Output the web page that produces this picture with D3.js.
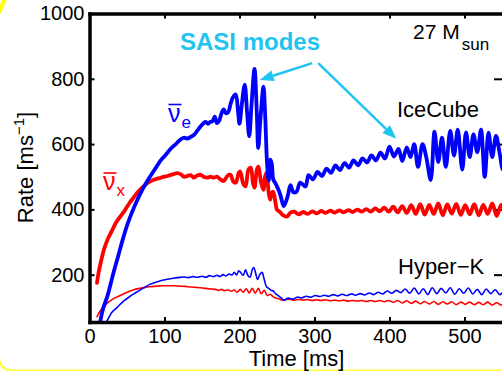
<!DOCTYPE html>
<html><head><meta charset="utf-8">
<script src="https://cdn.jsdelivr.net/npm/d3@7"></script>
<style>html,body{margin:0;padding:0;background:#fff;} svg{display:block;}</style>
</head><body>
<svg id="c" width="502" height="371"></svg>
<script>
// ---- data (time in ms, rate in ms^-1) ----
const iceNuE = [[14,52],[18,95],[24,135],[28,170],[32,206],[38,255],[44,305],[50,350],[57,393],[63,425],[70,458],[77,487],[85,515],[95,550],[102,568],[108,585],[115,600],[121,613],[126,620],[130,617],[135,622],[140,630],[144,642],[148,654],[152,664],[155,668],[158,662],[161,668],[164,670],[167,684],[170,664],[173,672],[176,694],[179,706],[182,694],[185,698],[188,722],[191,742],[195,752],[198,700],[200,662],[203,720],[207,782],[210,700],[213,624],[216,720],[220,830],[223,700],[225,588],[228,680],[232,776],[234,700],[237,531],[239,488],[241,552],[243,540],[245,492],[248,480],[252,460],[255,440],[259,410],[264,438],[268,474],[272,452],[276,454],[281,482],[288,470],[292,505],[298,492],[304,515],[310,502],[316,525],[322,512],[328,535],[334,520],[340,542],[346,528],[352,550],[358,535],[364,556],[370,544],[376,565],[382,550],[388,574],[394,556],[400,592],[406,562],[412,585],[417,548],[423,590],[428,560],[433,600],[438,530],[444,600],[449,560],[455,490],[460,638],[465,545],[470,620],[475,530],[481,640],[486,565],[491,644],[497,522],[502,636],[507,560],[512,630],[517,575],[522,644],[527,500],[532,635],[537,560],[542,625],[547,570],[551,522],[555,600]];
const iceNuX = [[10,175],[12,205],[15,237],[19,275],[24,307],[30,335],[35,358],[41,378],[46,393],[52,415],[59,437],[65,455],[72,470],[78,482],[85,490],[95,497],[105,503],[112,508],[117,511],[122,507],[126,500],[130,502],[135,505],[139,497],[143,503],[148,506],[152,500],[157,497],[161,500],[166,497],[170,500],[175,491],[179,487],[184,503],[188,506],[192,484],[195,482],[199,512],[201,516],[205,478],[208,470],[212,522],[215,528],[218,480],[220,467],[223,520],[225,531],[229,480],[232,460],[234,500],[236,512],[239,450],[241,430],[243,450],[245,454],[248,420],[250,399],[254,392],[258,382],[263,378],[268,390],[273,393],[279,385],[285,392],[291,386],[297,394],[303,388],[309,395],[315,389],[321,396],[327,390],[333,397],[339,391],[345,398],[351,392],[357,399],[363,393],[369,401],[375,393],[381,403],[387,394],[393,405],[399,393],[405,408],[411,391],[417,410],[423,389],[429,413],[435,386],[441,416],[447,384],[453,414],[459,386],[465,418],[471,382],[477,415],[483,387],[489,417],[495,383],[501,413],[507,385],[513,416],[519,382],[525,414],[531,386],[537,418],[543,380],[549,414],[555,385]];
const hkNuE = [[22,52],[26,70],[30,85],[37,100],[45,118],[52,130],[59,141],[67,152],[74,162],[81,171],[90,178],[97,183],[104,186],[112,189],[118,191],[125,193],[132,191],[138,194],[144,192],[150,195],[155,192],[160,197],[165,194],[170,198],[174,194],[178,200],[182,196],[186,202],[190,199],[193,207],[196,199],[199,212],[202,205],[205,198],[208,215],[211,198],[214,192],[217,215],[219,222],[222,200],[224,185],[227,200],[230,207],[233,185],[236,163],[239,158],[242,152],[245,150],[248,142],[252,135],[256,128],[259,122],[265,128],[271,125],[277,131],[283,129],[289,134],[295,131],[301,136],[307,133],[313,137],[319,134],[325,139],[331,135],[337,140],[343,136],[349,141],[355,137],[361,142],[367,138],[373,144],[379,139],[385,146],[391,141],[397,150],[403,143],[409,152],[415,145],[421,156],[427,143],[433,159],[439,141],[445,157],[451,139],[457,160],[463,142],[469,158],[475,144],[481,160],[487,140],[493,157],[499,143],[505,159],[511,141],[517,155],[523,139],[529,156],[535,142],[541,154],[547,139],[553,153]];
const hkNuX = [[10,71],[14,88],[19,102],[25,115],[31,125],[37,132],[45,141],[52,148],[59,154],[67,158],[74,161],[81,163],[90,165],[97,166],[104,166],[112,166],[120,165],[128,164],[135,162],[142,161],[148,160],[155,158],[162,156],[168,155],[172,152],[176,155],[180,151],[185,153],[189,149],[193,153],[197,146],[201,155],[205,146],[209,157],[213,144],[217,158],[221,143],[225,158],[229,142],[233,152],[237,136],[241,140],[245,132],[249,128],[253,126],[257,122],[261,123],[267,125],[273,122],[279,124],[285,122],[291,124],[297,121],[303,123],[309,121],[315,123],[321,120],[327,122],[333,120],[339,122],[345,119],[351,121],[357,119],[363,121],[369,118],[375,121],[381,118],[387,121],[393,117],[399,121],[405,115],[411,121],[417,113],[423,120],[429,112],[435,119],[441,111],[447,118],[453,110],[459,118],[465,109],[471,117],[477,110],[483,117],[489,108],[495,116],[501,109],[507,116],[513,108],[519,115],[525,108],[531,116],[537,107],[543,114],[549,107],[555,113]];
const xTicks = [0,100,200,300,400,500];
const yTicks = [200,400,600,800,1000];
const xDomain = [0,554];
const yDomain = [55,1000];
// annotation arrows (data coordinates: [time, rate])
const arrowFrom = [[297,848],[305,848]];
const arrowTo = [[227,796],[409,616]];

// ---- drawing ----
const svg = d3.select("#c");
const FONT = "'Liberation Sans', Arial, Helvetica, sans-serif";
svg.append("rect").attr("width",502).attr("height",371).attr("fill","#fff");

const x = d3.scaleLinear().domain(xDomain).range([89.5,505]);
const y = d3.scaleLinear().domain(yDomain).range([322,13.5]);

// yellow frame fragments
svg.append("path").attr("d","M-1,330 L-1,356 Q-1,370.5 13,370.5 L510,370.5")
  .attr("fill","none").attr("stroke","#ffff33").attr("stroke-width",2);
svg.append("path").attr("d","M5,-1 Q2,5 -1,13")
  .attr("fill","none").attr("stroke","#ffff00").attr("stroke-width",4);

function styleAxis(sel){
  sel.select(".domain").attr("stroke","#000").attr("stroke-width",3.5).attr("stroke-linecap","square");
  sel.selectAll(".tick line").attr("stroke","#000").attr("stroke-width",2);
  sel.selectAll(".tick text").attr("font-family",FONT).attr("font-size",20).attr("fill","#000");
}
// right axis (ticks lie under the data)
svg.append("g").attr("transform","translate(505,0)")
  .call(d3.axisRight(y).tickValues(yTicks).tickSize(-11).tickSizeOuter(0).tickFormat(""))
  .call(styleAxis);

svg.append("clipPath").attr("id","clip").append("rect")
  .attr("x",89.5).attr("y",13.5).attr("width",505-89.5).attr("height",322-13.5);

const line = d3.line().x(d=>x(d[0])).y(d=>y(d[1])).curve(d3.curveCatmullRom.alpha(0.5));
const g = svg.append("g").attr("clip-path","url(#clip)");
const series = [
  {data:hkNuX, color:"#ff0000", w:1.6},
  {data:hkNuE, color:"#0000ff", w:1.6},
  {data:iceNuX, color:"#ff0000", w:3.8},
  {data:iceNuE, color:"#0000ff", w:3.8}
];
g.selectAll("path.s").data(series).join("path").attr("class","s")
  .attr("d",d=>line(d.data)).attr("fill","none")
  .attr("stroke",d=>d.color).attr("stroke-width",d=>d.w)
  .attr("stroke-linejoin","round").attr("stroke-linecap","round");

// axes
svg.append("g").attr("transform","translate(0,322)")
  .call(d3.axisBottom(x).tickValues(xTicks).tickSize(-5).tickSizeOuter(0).tickPadding(7).tickFormat(d3.format("d")))
  .call(styleAxis);
svg.append("g").attr("transform","translate(0,13.5)")
  .call(d3.axisTop(x).tickValues(xTicks).tickSize(-5).tickSizeOuter(0).tickFormat(""))
  .call(styleAxis);
svg.append("g").attr("transform","translate(89.5,0)")
  .call(d3.axisLeft(y).tickValues(yTicks).tickSize(-5).tickSizeOuter(0).tickPadding(5).tickFormat(d3.format("d")))
  .call(styleAxis);

// axis titles
svg.append("text").attr("x",296.5).attr("y",365.5).attr("text-anchor","middle")
  .attr("font-family",FONT).attr("font-size",22).text("Time [ms]");
const yl = svg.append("text").attr("transform","translate(33,167.5) rotate(-90)")
  .attr("text-anchor","middle").attr("font-family",FONT).attr("font-size",22);
yl.append("tspan").text("Rate [ms");
yl.append("tspan").attr("font-size",15).attr("dy",-9).text("−1");
yl.append("tspan").attr("dy",9).text("]");

// labels
svg.append("text").attr("x",180).attr("y",50).attr("font-family",FONT)
  .attr("font-size",24).attr("font-weight","bold").attr("fill","#1fc4f0").text("SASI modes");
const ms = svg.append("text").attr("x",413).attr("y",39).attr("font-family",FONT).attr("font-size",21);
ms.append("tspan").text("27 M");
ms.append("tspan").attr("font-size",17).attr("dx",2).attr("dy",11).text("sun");
svg.append("text").attr("x",397).attr("y",117).attr("font-family",FONT).attr("font-size",22).text("IceCube");
svg.append("text").attr("x",398).attr("y",274).attr("font-family",FONT).attr("font-size",22).text("Hyper−K");

function nuLabel(x0, base, sub, color){
  const t = svg.append("text").attr("x",x0).attr("y",base).attr("font-family",FONT)
    .attr("font-size",25).attr("fill",color);
  t.append("tspan").text("ν");
  t.append("tspan").attr("font-size",17).attr("dy",6).attr("dx",1).text(sub);
  svg.append("line").attr("x1",x0+0.5).attr("x2",x0+13.5).attr("y1",base-17).attr("y2",base-17)
    .attr("stroke",color).attr("stroke-width",1.6);
}
nuLabel(168,121.5,"e","#0000ff");
nuLabel(103,190,"x","#ff0000");

// arrows
const cyan = "#1fc4f0";
arrowFrom.forEach((f,i)=>{
  const x1=x(f[0]), y1=y(f[1]), x2=x(arrowTo[i][0]), y2=y(arrowTo[i][1]);
  const a=Math.atan2(y2-y1,x2-x1), L=14, W=5.5;
  const bx=x2-L*Math.cos(a), by=y2-L*Math.sin(a);
  svg.append("line").attr("x1",x1).attr("y1",y1).attr("x2",bx).attr("y2",by)
    .attr("stroke",cyan).attr("stroke-width",2.5);
  svg.append("path").attr("d",`M${x2},${y2}L${bx+W*Math.sin(a)},${by-W*Math.cos(a)}L${bx-W*Math.sin(a)},${by+W*Math.cos(a)}Z`)
    .attr("fill",cyan);
});
</script>
</body></html>
